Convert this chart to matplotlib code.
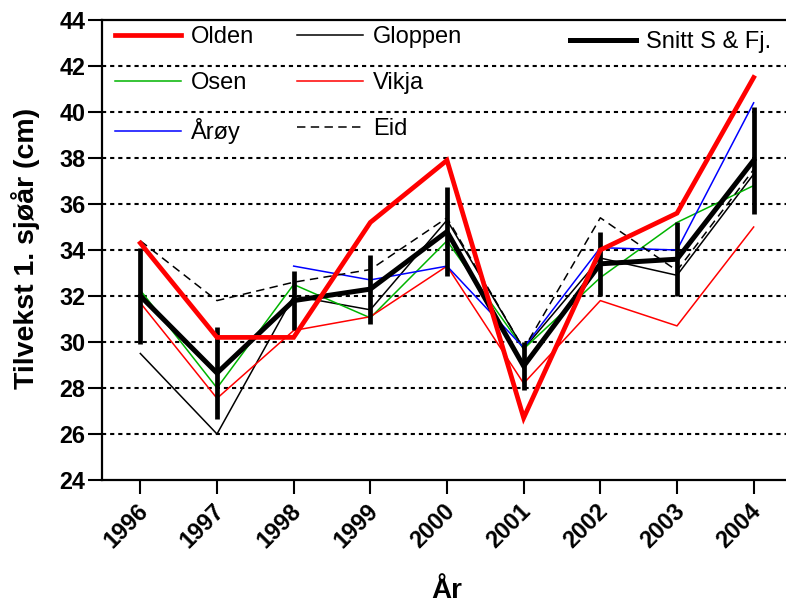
import numpy as np
import matplotlib
matplotlib.use("Agg")
import matplotlib.pyplot as plt
import matplotlib.transforms as mtransforms

plt.rcParams['font.family'] = ['Liberation Sans', 'DejaVu Sans']

# Growth in first sea year (cm) per site and year
years = [1996, 1997, 1998, 1999, 2000, 2001, 2002, 2003, 2004]
olden = [34.3, 30.2, 30.2, 35.2, 37.9, 26.7, 34.0, 35.6, 41.5]
gloppen = [29.5, 26.0, 32.0, 31.4, 35.3, 29.7, 33.65, 32.9, 37.3]
osen = [32.25, 28.0, 32.5, 31.05, 34.4, 29.7, 32.8, 35.2, 36.8]
vikja = [31.7, 27.55, 30.5, 31.1, 33.3, 28.2, 31.8, 30.7, 35.0]
aroy = [np.nan, np.nan, 33.3, 32.7, 33.3, 29.75, 34.1, 34.0, 40.4]
eid = [34.4, 31.8, 32.6, 33.15, 35.4, 29.7, 35.4, 33.1, 37.5]
snitt = [32.0, 28.65, 31.8, 32.3, 34.8, 28.95, 33.4, 33.6, 37.9]
snitt_err = [2.1, 2.0, 1.27, 1.5, 1.95, 1.05, 1.38, 1.62, 2.33]

y_ticks = list(range(24, 45, 2))

W, H = 786, 603
fig = plt.figure(figsize=(W / 100, H / 100), dpi=100)
ax = fig.add_axes([102 / W, 1 - 480 / H, (792 - 102) / W, 460 / H])

green = '#00b400'
thin = 1.1

l_gloppen, = ax.plot(years, gloppen, color='black', lw=thin, zorder=3)
l_osen, = ax.plot(years, osen, color=green, lw=thin, zorder=3)
l_vikja, = ax.plot(years, vikja, color='#ff0000', lw=thin, zorder=3)
l_aroy, = ax.plot(years, aroy, color='#0000ff', lw=thin, zorder=3)
l_eid, = ax.plot(years, eid, color='black', lw=thin, dashes=(5.5, 3.5), zorder=3)
ax.errorbar(years, snitt, yerr=snitt_err, fmt='none', ecolor='black',
            elinewidth=3.4, capsize=0, zorder=4)
l_snitt, = ax.plot(years, snitt, color='black', lw=3.6, zorder=4,
                   solid_joinstyle='miter')
l_olden, = ax.plot(years, olden, color='#ff0000', lw=3.4, zorder=5,
                   solid_joinstyle='miter')

ax.set_xlim(1995.5, 2004.5)
ax.set_ylim(24, 44)
ax.set_xticks(years)
ax.set_yticks(y_ticks)

for y in y_ticks[1:-1]:
    ax.axhline(y, color='black', lw=1.5, dashes=(2.0, 1.9), zorder=1)

for s in ['left', 'bottom', 'top']:
    ax.spines[s].set_linewidth(1.6)
    ax.spines[s].set_zorder(6)
ax.spines['right'].set_visible(False)

ax.tick_params(axis='both', direction='out', length=10, width=1.5,
               labelsize=16.8)
ax.tick_params(axis='y', pad=2)
ax.tick_params(axis='x', pad=10)
shift = mtransforms.ScaledTranslation(4 / 100, 0, fig.dpi_scale_trans)
for lab in ax.get_yticklabels():
    lab.set_fontweight('bold')
for lab in ax.get_xticklabels():
    lab.set_fontweight('bold')
    lab.set_rotation(45)
    lab.set_ha('right')
    lab.set_va('center')
    lab.set_rotation_mode('anchor')
    lab.set_transform(lab.get_transform() + shift)

fig.text(26 / W, 1 - 248 / H, 'Tilvekst 1. sjøår (cm)', rotation=90,
         ha='center', va='center', fontsize=20.5, fontweight='bold')
fig.text(447 / W, 1 - 598 / H, 'År', ha='center', va='baseline',
         fontsize=20, fontweight='bold')

leg_kw = dict(frameon=False, fontsize=17, handlelength=2.8,
              handletextpad=0.43, borderpad=0, borderaxespad=0,
              labelspacing=1.02)
leg1 = fig.legend([l_olden, l_osen, l_aroy, l_gloppen, l_vikja, l_eid],
                  ['Olden', 'Osen', 'Årøy', 'Gloppen', 'Vikja', 'Eid'],
                  ncol=2, columnspacing=1.8, loc='upper left',
                  bbox_to_anchor=(115 / W, 1 - 26 / H), **leg_kw)
leg2 = fig.legend([l_snitt], ['Snitt S & Fj.'], loc='upper left',
                  bbox_to_anchor=(570 / W, 1 - 31 / H), **leg_kw)

fig.savefig('out.png', dpi=100)
